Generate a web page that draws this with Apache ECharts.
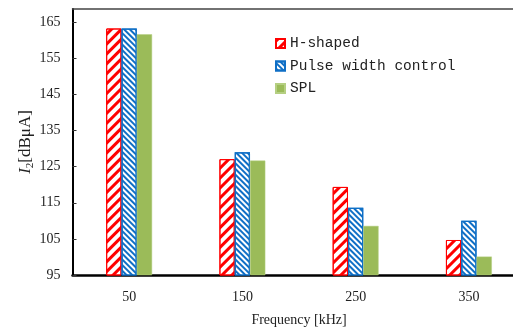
<!DOCTYPE html>
<html><head><meta charset="utf-8">
<script src="https://cdn.jsdelivr.net/npm/echarts@6/dist/echarts.min.js"></script>
<style>html,body{margin:0;padding:0;background:#fff;overflow:hidden}#c{width:530px;height:332px}</style>
</head><body><div id="c"></div>
<script>
const categories = ['50', '150', '250', '350'];
const hShaped = [163.3, 127.1, 119.4, 104.7];
const pulseWidth = [163.3, 129.0, 113.6, 110.0];
const spl = [161.7, 126.7, 108.6, 100.1];
const seriesNames = ['H-shaped', 'Pulse width control', 'SPL'];

const serif = '"Liberation Serif","Times New Roman",serif';
const chart = echarts.init(document.getElementById('c'), null, {renderer: 'canvas'});
chart.setOption({
  animation: false,
  grid: {left: 72.5, top: 9, bottom: 56.5, width: 453, containLabel: false},
  legend: {
    orient: 'vertical', left: 270, top: 30,
    itemWidth: 9, itemHeight: 9, itemGap: 5.5,
    icon: 'rect',
    textStyle: {fontFamily: '"Liberation Mono","DejaVu Sans Mono",monospace', fontSize: 14.5, color: '#222', lineHeight: 17},
    data: seriesNames
  },
  xAxis: [{
    type: 'category', data: categories,
    axisLine: {lineStyle: {color: '#000', width: 2.5}},
    axisTick: {inside: true, length: 5, lineStyle: {color: '#333', width: 1}},
    axisLabel: {fontFamily: serif, fontSize: 14, color: '#222', margin: 15},
    name: 'Frequency [kHz]', nameLocation: 'middle', nameGap: 38, nameMoveOverlap: false,
    nameTextStyle: {fontFamily: serif, fontSize: 14, color: '#222'}
  }, {
    type: 'category', data: categories, position: 'top',
    axisLine: {show: true, lineStyle: {color: '#444', width: 1.5}},
    axisTick: {show: false}, axisLabel: {show: false}
  }],
  yAxis: {
    type: 'value', min: 95, max: 168.7, interval: 10,
    axisLine: {show: true, lineStyle: {color: '#000', width: 2}},
    axisTick: {show: true, inside: true, length: 4, lineStyle: {color: '#333'}},
    splitLine: {show: false},
    axisLabel: {fontFamily: serif, fontSize: 14, color: '#222', margin: 12, showMaxLabel: false},
    name: '{i|I}{s|2}{n|[dBμA]}', nameLocation: 'middle', nameGap: 37, nameRotate: 90, nameMoveOverlap: false,
    nameTextStyle: {
      fontFamily: serif, fontSize: 17, color: '#222',
      rich: {
        i: {fontFamily: serif, fontSize: 17, fontStyle: 'italic', color: '#222'},
        s: {fontFamily: serif, fontSize: 11, color: '#222', verticalAlign: 'bottom', padding: [9, 0, 0, 0]},
        n: {fontFamily: serif, fontSize: 17, color: '#222'}
      }
    }
  },
  series: [{
    name: seriesNames[0], type: 'bar', data: hShaped, barWidth: 15.3, barGap: '0%',
    itemStyle: {
      color: '#fff', borderColor: '#ff0000', borderWidth: 1,
      decal: {symbol: 'rect', symbolSize: 1, dashArrayX: [1, 0], dashArrayY: [3, 4], rotation: -Math.PI / 4, color: '#ff0000'}
    }
  }, {
    name: seriesNames[1], type: 'bar', data: pulseWidth, barWidth: 15.3, barGap: '0%',
    itemStyle: {
      color: '#fff', borderColor: '#0f6fc6', borderWidth: 1.2,
      decal: {symbol: 'rect', symbolSize: 1, dashArrayX: [1, 0], dashArrayY: [2, 1.6], rotation: Math.PI / 4, color: '#0f6fc6'}
    }
  }, {
    name: seriesNames[2], type: 'bar', data: spl, barWidth: 15.3, barGap: '0%',
    itemStyle: {color: '#9bbb59', borderColor: '#b5cf82', borderWidth: 0.5}
  }]
});
</script></body></html>
